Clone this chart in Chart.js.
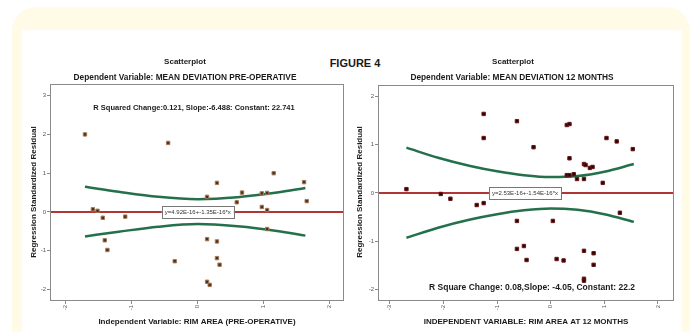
<!DOCTYPE html>
<html>
<head>
<meta charset="utf-8">
<script src="https://cdn.jsdelivr.net/npm/chart.js@4.4.1/dist/chart.umd.min.js"></script>
<style>
  html, body { margin: 0; padding: 0; background: #ffffff; width: 695px; height: 332px; overflow: hidden; }
  #panel { position: absolute; left: 12px; top: 7px; width: 678px; height: 360px; background: #fffbe6; border-radius: 24px; }
  #sheet { position: absolute; left: 22px; top: 30px; width: 660px; height: 310px; background: #ffffff; }
  #fig { position: absolute; left: 300px; top: 57px; width: 110px; text-align: center;
         font: bold 11px "Liberation Sans", Arial, sans-serif; color: #1a1a1a; }
  canvas { position: absolute; }
  #c1 { left: 22px; top: 30px; }
  #c2 { left: 352px; top: 30px; }
</style>
</head>
<body>
<div id="panel"></div>
<div id="sheet"></div>
<div id="fig">FIGURE 4</div>
<canvas id="c1" width="330" height="302" style="width:330px;height:302px"></canvas>
<canvas id="c2" width="330" height="302" style="width:330px;height:302px"></canvas>
<script>
// ---- Pre-operative: standardized residuals vs rim area ----
const preX = [-1.71, -0.45, 0.29, 1.15, 1.61, -1.59, -1.52, -1.44, -1.10, -1.41, -1.37, -0.35,
              0.14, 0.14, 0.29, 0.29, 0.33, 0.14, 0.18, 0.59, 0.67, 0.97, 1.05, 0.97, 1.05, 1.05, 1.65];
const preY = [2.00, 1.78, 0.75, 1.00, 0.77, 0.07, 0.03, -0.15, -0.12, -0.73, -0.98, -1.27,
              0.39, -0.70, -0.76, -1.19, -1.36, -1.80, -1.88, 0.25, 0.50, 0.48, 0.49, 0.13, 0.05, -0.44, 0.28];
const preBandX = [-1.71, -1.2, -0.6, 0, 0.6, 1.2, 1.63];
const preBandUpper = [0.65, 0.52, 0.39, 0.33, 0.38, 0.50, 0.62];
const preBandLower = [-0.63, -0.51, -0.38, -0.31, -0.37, -0.49, -0.61];
const preFitX = [-2.24, 2.2];
const preFitY = [0, 0];

// ---- 12 months: standardized residuals vs rim area ----
const m12X = [-1.25, -1.25, -0.63, -0.32, 0.30, 0.35, 0.35, 0.30, 0.35, 0.43, 0.49, 0.62, 0.62, 0.65,
              0.73, 0.78, 0.97, 1.04, 1.23, 1.53, -2.69, -2.05, -1.87, -1.38, -1.25, -0.63, 0.04,
              -0.63, -0.50, -0.45, 0.11, 0.24, 0.62, 0.80, 0.80, 0.62, 0.62, 1.29];
const m12Y = [1.64, 1.14, 1.49, 0.95, 1.41, 1.43, 0.72, 0.37, 0.37, 0.39, 0.29, 0.29, 0.60, 0.58,
              0.52, 0.54, 0.21, 1.14, 1.07, 0.91, 0.08, -0.02, -0.12, -0.25, -0.21, -0.58, -0.58,
              -1.16, -1.10, -1.39, -1.37, -1.40, -1.20, -1.25, -1.49, -1.78, -1.82, -0.41];
const m12BandX = [-2.69, -2.1, -1.5, -1.0, -0.5, 0, 0.5, 1.0, 1.55];
const m12BandUpper = [0.94, 0.73, 0.56, 0.45, 0.37, 0.33, 0.35, 0.44, 0.60];
const m12BandLower = [-0.93, -0.72, -0.55, -0.44, -0.36, -0.32, -0.35, -0.44, -0.60];
const m12FitX = [-3.22, 2.28];
const m12FitY = [0, 0];

const pts = (xs, ys) => xs.map((x, i) => ({ x: x, y: ys[i] }));

const FONT = '"Liberation Sans", Arial, sans-serif';
const GREEN = '#23704a';
const RED = '#b03636';

// Frame, titles, annotations and the fit-equation box
const panelText = {
  id: 'panelText',
  afterDraw(chart, args, o) {
    const ctx = chart.ctx;
    const a = chart.chartArea;
    ctx.save();
    ctx.strokeStyle = '#8a8a8a';
    ctx.lineWidth = 1;
    ctx.strokeRect(Math.round(a.left) + 0.5, Math.round(a.top) + 0.5,
                   Math.round(a.right - a.left), Math.round(a.bottom - a.top));
    ctx.fillStyle = '#1a1a1a';
    ctx.textAlign = 'center';
    ctx.textBaseline = 'middle';
    ctx.font = 'bold 8px ' + FONT;
    ctx.fillText(o.title, o.titleX, o.titleY);
    ctx.fillText(o.xTitle, o.xTitleX, o.xTitleY);
    ctx.font = 'bold 8.3px ' + FONT;
    ctx.fillText(o.subtitle, o.subX, o.subY);
    ctx.font = 'bold ' + o.noteSize + 'px ' + FONT;
    ctx.fillText(o.note, o.noteX, o.noteY);
    ctx.save();
    ctx.font = 'bold 8px ' + FONT;
    ctx.translate(o.yTitleX, o.yTitleY);
    ctx.rotate(-Math.PI / 2);
    ctx.fillText(o.yTitle, 0, 0);
    ctx.restore();
    // equation label on the fit line
    const cx = chart.scales.x.getPixelForValue(o.eqAt);
    const cy = chart.scales.y.getPixelForValue(0);
    ctx.font = '6px ' + FONT;
    const w = ctx.measureText(o.eq).width + 6;
    const h = 12;
    ctx.fillStyle = '#ffffff';
    ctx.fillRect(cx - w / 2, cy - h / 2, w, h);
    ctx.strokeStyle = '#777777';
    ctx.strokeRect(Math.round(cx - w / 2) + 0.5, Math.round(cy - h / 2) + 0.5, Math.round(w), h);
    ctx.fillStyle = '#333333';
    ctx.fillText(o.eq, cx, cy + 0.5);
    ctx.restore();
  }
};

function makeChart(id, cfg) {
  return new Chart(document.getElementById(id), {
    type: 'scatter',
    data: {
      datasets: [
        { data: pts(cfg.fitX, cfg.fitY), showLine: true, borderColor: RED, borderWidth: 2,
          pointRadius: 0, order: 3 },
        { data: pts(cfg.bandX, cfg.bandUpper), showLine: true, borderColor: GREEN, borderWidth: 2.5,
          pointRadius: 0, cubicInterpolationMode: 'monotone', order: 2 },
        { data: pts(cfg.bandX, cfg.bandLower), showLine: true, borderColor: GREEN, borderWidth: 2.5,
          pointRadius: 0, cubicInterpolationMode: 'monotone', order: 2 },
        { data: pts(cfg.xs, cfg.ys), pointStyle: 'rect', pointRadius: 2.4, borderWidth: 1,
          backgroundColor: cfg.dotFill, borderColor: cfg.dotEdge, order: 1 }
      ]
    },
    options: {
      responsive: false,
      animation: false,
      devicePixelRatio: 1,
      layout: { padding: { top: cfg.padTop, right: 9, left: 0, bottom: 0 } },
      plugins: { legend: { display: false }, tooltip: { enabled: false }, panelText: cfg.text },
      scales: {
        x: {
          type: 'linear', min: cfg.xMin, max: cfg.xMax,
          afterFit(s) { s.height = 32; },
          border: { display: false },
          grid: { drawOnChartArea: false, drawTicks: true, tickLength: 4, color: '#8a8a8a' },
          ticks: { stepSize: 1, includeBounds: false, minRotation: 90, maxRotation: 90, padding: 1,
                   font: { size: 6, family: FONT }, color: '#555555' }
        },
        y: {
          type: 'linear', min: cfg.yMin, max: cfg.yMax,
          afterFit(s) { s.width = cfg.yWidth; },
          border: { display: false },
          grid: { drawOnChartArea: false, drawTicks: true, tickLength: 3, color: '#8a8a8a' },
          ticks: { stepSize: 1, includeBounds: false, padding: 1,
                   font: { size: 6, family: FONT }, color: '#555555' }
        }
      }
    },
    plugins: [panelText]
  });
}

makeChart('c1', {
  xs: preX, ys: preY, bandX: preBandX, bandUpper: preBandUpper, bandLower: preBandLower,
  fitX: preFitX, fitY: preFitY,
  xMin: -2.24, xMax: 2.2, yMin: -2.27, yMax: 3.3, yWidth: 28, padTop: 54,
  dotFill: '#4a3020', dotEdge: '#a87a55',
  text: {
    title: 'Scatterplot', titleX: 163, titleY: 32,
    subtitle: 'Dependent Variable: MEAN DEVIATION PRE-OPERATIVE', subX: 163, subY: 48,
    note: 'R Squared Change:0.121, Slope:-6.488: Constant: 22.741', noteX: 172, noteY: 78, noteSize: 7.5,
    xTitle: 'Independent Variable: RIM AREA (PRE-OPERATIVE)', xTitleX: 175, xTitleY: 292,
    yTitle: 'Regression Standardized Residual', yTitleX: 12, yTitleY: 162,
    eq: 'y=4.92E-16+-1.35E-16*x', eqAt: 0
  }
});

makeChart('c2', {
  xs: m12X, ys: m12Y, bandX: m12BandX, bandUpper: m12BandUpper, bandLower: m12BandLower,
  fitX: m12FitX, fitY: m12FitY,
  xMin: -3.22, xMax: 2.28, yMin: -2.22, yMax: 2.24, yWidth: 26, padTop: 55,
  dotFill: '#2a0404', dotEdge: '#6a1616',
  text: {
    title: 'Scatterplot', titleX: 161, titleY: 32,
    subtitle: 'Dependent Variable: MEAN DEVIATION 12 MONTHS', subX: 160, subY: 48,
    note: 'R Square Change: 0.08,Slope: -4.05, Constant: 22.2', noteX: 180, noteY: 258, noteSize: 8.5,
    xTitle: 'INDEPENDENT VARIABLE: RIM AREA AT 12 MONTHS', xTitleX: 174, xTitleY: 292,
    yTitle: 'Regression Standardized Residual', yTitleX: 8, yTitleY: 162,
    eq: 'y=2.53E-16+-1.54E-16*x', eqAt: -0.48
  }
});
</script>
</body>
</html>
